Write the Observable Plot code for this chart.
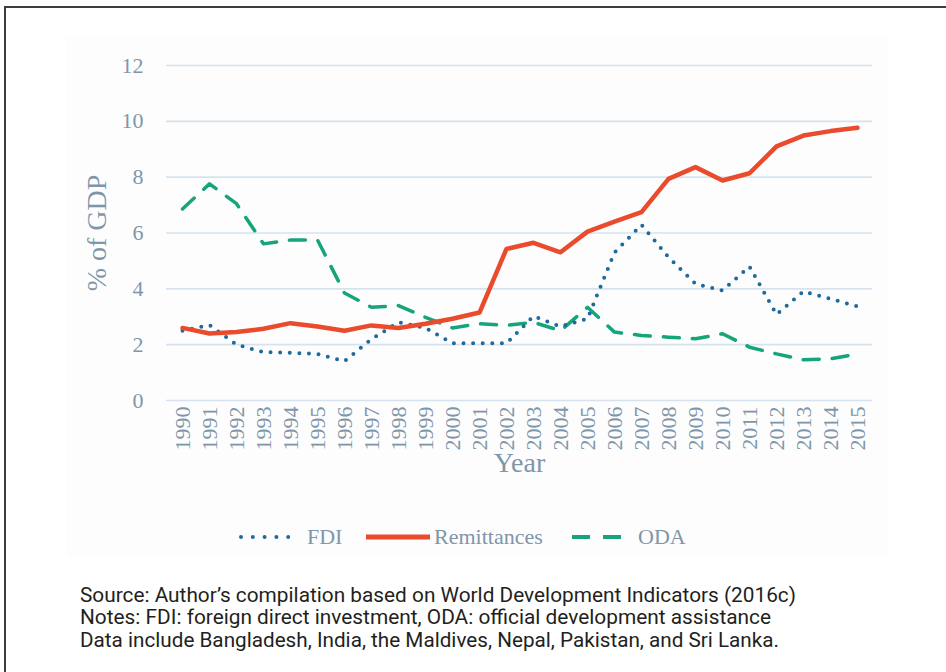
<!DOCTYPE html>
<html><head><meta charset="utf-8">
<script src="https://cdn.jsdelivr.net/npm/d3@7"></script>
<script src="https://cdn.jsdelivr.net/npm/@observablehq/plot@0.6"></script>
<style>
html,body{margin:0;padding:0;background:#fff;}
#wrap{position:relative;width:946px;height:672px;overflow:hidden;background:#fff;}
#frame{position:absolute;left:4px;top:6px;width:1000px;height:1000px;border-top:2px solid #3d3d3d;border-left:2px solid #3d3d3d;pointer-events:none;}
#panel{position:absolute;left:66px;top:37px;width:821px;height:521px;background:#fdfdfd;}
#chart{position:absolute;left:0;top:0;}
#legend{position:absolute;left:0;top:0;}
#caption{position:absolute;left:0;top:0;}
</style></head><body>
<div id="wrap"><div id="panel"></div><div id="chart"></div><svg id="legend" width="946" height="560"></svg><svg id="caption" width="946" height="672"></svg><div id="frame"></div></div>
<script>
const years = [1990,1991,1992,1993,1994,1995,1996,1997,1998,1999,2000,2001,2002,2003,2004,2005,2006,2007,2008,2009,2010,2011,2012,2013,2014,2015];
const fdi = [2.5,2.7,2.0,1.73,1.71,1.67,1.41,2.2,2.8,2.6,2.05,2.05,2.05,3.02,2.65,2.93,5.3,6.29,5.13,4.18,3.94,4.8,3.08,3.91,3.64,3.37];
const remittances = [2.6,2.4,2.45,2.57,2.77,2.65,2.5,2.69,2.6,2.75,2.93,3.15,5.43,5.65,5.31,6.05,6.41,6.75,7.94,8.36,7.88,8.14,9.1,9.49,9.65,9.77];
const oda = [6.86,7.76,7.05,5.61,5.75,5.75,3.85,3.34,3.4,2.98,2.6,2.75,2.69,2.8,2.5,3.34,2.45,2.33,2.27,2.21,2.39,1.91,1.67,1.46,1.49,1.67];
const yTicks = [0,2,4,6,8,10,12];
const seriesNames = ["FDI","Remittances","ODA"];
const captionLines = [
  "Source: Author\u2019s compilation based on World Development Indicators (2016c)",
  "Notes: FDI: foreign direct investment, ODA: official development assistance",
  "Data include Bangladesh, India, the Maldives, Nepal, Pakistan, and Sri Lanka."
];

const colors = {FDI:"#1f6a9c", Remittances:"#e94b2c", ODA:"#16a47c"};
const styles = {
  FDI:{stroke:colors.FDI, strokeWidth:4, strokeDasharray:"0 9.6", strokeLinecap:"round"},
  Remittances:{stroke:colors.Remittances, strokeWidth:4.5, strokeLinejoin:"round", strokeLinecap:"round"},
  ODA:{stroke:colors.ODA, strokeWidth:3.5, strokeDasharray:"16 13"}
};
const seriesData = {FDI:fdi, Remittances:remittances, ODA:oda};
const rows = seriesNames.flatMap(s => years.map((yr,i) => ({series:s, year:yr, value:seriesData[s][i]})));

const serif = "'Liberation Serif','DejaVu Serif',serif";
const textCol = "#7f96aa";

const plot = Plot.plot({
  width:946, height:560,
  marginTop:65, marginLeft:166, marginRight:74, marginBottom:160,
  style:{background:"transparent", fontFamily:serif, color:textCol, overflow:"visible"},
  x:{type:"point", domain:years, padding:0.5},
  y:{domain:[0,12]},
  marks:[
    Plot.gridY(yTicks,{stroke:"#d6e3ef", strokeOpacity:1, strokeWidth:1.6}),
    Plot.axisY(yTicks,{tickSize:0, tickPadding:23, fontSize:22, label:"% of GDP", labelAnchor:"center", labelOffset:80, labelArrow:"none", tickFormat:d=>String(d)}),
    Plot.axisX({tickRotate:-90, tickSize:0, tickPadding:6, fontSize:22, label:"Year", labelAnchor:"center", labelOffset:71, labelArrow:"none", tickFormat:d=>String(d)}),
    ...["ODA","FDI","Remittances"].map(s => Plot.line(rows.filter(d=>d.series===s), {x:"year", y:"value", ...styles[s]}))
  ]
});
document.getElementById("chart").appendChild(plot);
plot.querySelectorAll('[aria-label="y-axis label"] text, [aria-label="x-axis label"] text').forEach(t=>{t.style.fontSize="28px";});

// legend
const lg = d3.select("#legend").attr("font-family", serif).attr("font-size", 22).attr("fill", textCol);
const legendLayout = {FDI:[241,300,307], Remittances:[366,430,434], ODA:[572,621,638]};
const ly = 537;
seriesNames.forEach(s => {
  const [x0,x1,tx] = legendLayout[s];
  const st = styles[s];
  lg.append("line").attr("x1",x0).attr("x2",x1).attr("y1",ly).attr("y2",ly)
    .attr("stroke",st.stroke).attr("stroke-width", s==="Remittances"?5:(s==="ODA"?4:st.strokeWidth))
    .attr("stroke-dasharray", s==="ODA" ? "18 13" : (s==="FDI" ? "0 11.8" : null))
    .attr("stroke-linecap", s==="FDI" ? "round" : "butt");
  lg.append("text").attr("x",tx).attr("y",ly+7).text(s);
});

// caption
const cap = d3.select("#caption").attr("font-family","Roboto,'Noto Sans',sans-serif").attr("font-size",20.5).attr("fill","#231f20");
const capLens = [716, 691, 699];
captionLines.forEach((t,i)=>{
  cap.append("text").attr("x",80).attr("y",601.5+i*22.5).attr("textLength",capLens[i]).attr("lengthAdjust","spacingAndGlyphs").text(t);
});
</script>
</body></html>
